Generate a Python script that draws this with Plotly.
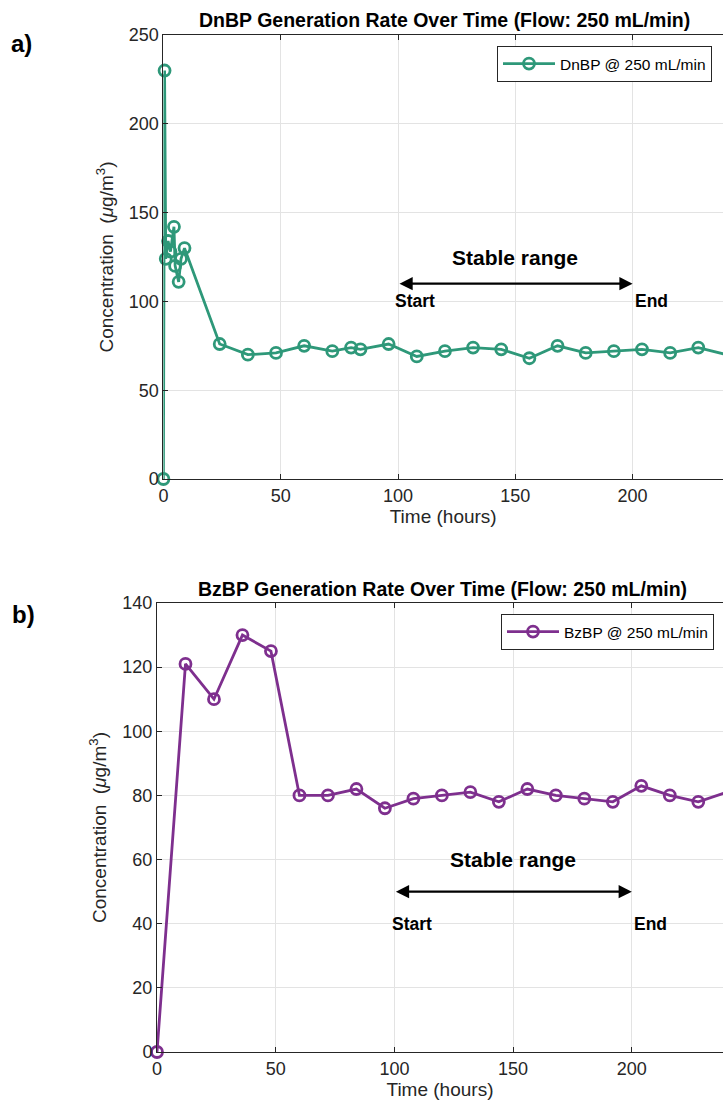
import plotly.graph_objects as go

# ---------------- data ----------------
dnbp_time = [0, 0.5, 1, 2, 3, 4.5, 5, 6.5, 7.5, 9,
             24, 36, 48, 60, 72, 80, 84, 96, 108, 120, 132, 144, 156, 168,
             180, 192, 204, 216, 228, 240]
dnbp_conc = [0, 230, 124, 134, 128, 142, 120, 111, 124, 130,
             76, 70, 71, 75, 72, 74, 73, 76, 69, 72, 74, 73, 68, 75,
             71, 72, 73, 71, 74, 70]

bzbp_time = [0, 12, 24, 36, 48, 60, 72, 84, 96, 108, 120, 132, 144, 156, 168,
             180, 192, 204, 216, 228, 240]
bzbp_conc = [0, 121, 110, 130, 125, 80, 80, 82, 76, 79, 80, 81, 78, 82, 80,
             79, 78, 83, 80, 78, 81]

stable_start = 100
stable_end = 200
x_ticks = [0, 50, 100, 150, 200]
title_a = "DnBP Generation Rate Over Time (Flow: 250 mL/min)"
title_b = "BzBP Generation Rate Over Time (Flow: 250 mL/min)"
legend_a = "DnBP @ 250 mL/min"
legend_b = "BzBP @ 250 mL/min"
ylab = "Concentration  (<i>μ</i>g/m<sup>3</sup>)"
xlab = "Time (hours)"

# ---------------- style ----------------
W, H = 723, 1104
TEAL = "#2e9879"
PURPLE = "#7e2f8e"
AX = "#262626"
GRID = "#e3e3e3"
FONT = "Liberation Sans, Arial, sans-serif"

def py(p):  # screen pixel y -> paper
    return 1 - p / H

def px(p):
    return p / W

fig = go.Figure()

fig.add_trace(go.Scatter(
    x=dnbp_time, y=dnbp_conc, mode="lines+markers", name=legend_a,
    line=dict(color=TEAL, width=2.8),
    marker=dict(symbol="circle-open", size=11, color=TEAL, line=dict(width=2.8)),
    xaxis="x", yaxis="y", legend="legend", cliponaxis=False))
fig.add_trace(go.Scatter(
    x=bzbp_time, y=bzbp_conc, mode="lines+markers", name=legend_b,
    line=dict(color=PURPLE, width=2.8),
    marker=dict(symbol="circle-open", size=11, color=PURPLE, line=dict(width=2.8)),
    xaxis="x2", yaxis="y2", legend="legend2", cliponaxis=False))

axis_common = dict(
    showline=True, linecolor=AX, linewidth=1, ticks="inside", ticklen=5,
    tickcolor=AX, tickfont=dict(family=FONT, size=18, color=AX),
    showgrid=True, gridcolor=GRID, gridwidth=1, zeroline=False, automargin=False,
)

xr_a = [0, (723 - 163.4) / 2.346]
xr_b = [0, (723 - 157) / 2.374]

fig.update_layout(
    width=W, height=H, margin=dict(l=0, r=0, t=0, b=0, autoexpand=False),
    paper_bgcolor="white", plot_bgcolor="white", showlegend=True,
    font=dict(family=FONT, color=AX),
    xaxis=dict(axis_common, domain=[px(163.4), 1], range=xr_a, tickvals=x_ticks,
               anchor="y", mirror="ticks",
               title=dict(text=xlab, font=dict(size=19, color=AX), standoff=5)),
    yaxis=dict(axis_common, domain=[py(479), py(35)], range=[0, 250], dtick=50,
               anchor="x",
               title=dict(text=ylab, font=dict(size=19, color=AX), standoff=10)),
    xaxis2=dict(axis_common, domain=[px(157), 1], range=xr_b, tickvals=x_ticks,
                anchor="y2", mirror="ticks",
                title=dict(text=xlab, font=dict(size=19, color=AX), standoff=4)),
    yaxis2=dict(axis_common, domain=[py(1052), py(603)], range=[0, 140], dtick=20,
                anchor="x2",
                title=dict(text=ylab, font=dict(size=19, color=AX), standoff=10)),
    legend=dict(x=px(712), y=py(46), xanchor="right", yanchor="top",
                bgcolor="white", bordercolor=AX, borderwidth=1,
                font=dict(family=FONT, size=15.5, color="black"),
                itemwidth=52, tracegroupgap=0),
    legend2=dict(x=px(714), y=py(614), xanchor="right", yanchor="top",
                 bgcolor="white", bordercolor=AX, borderwidth=1,
                 font=dict(family=FONT, size=15.5, color="black"),
                 itemwidth=52, tracegroupgap=0),
)

ann = []
# panel labels
ann.append(dict(text="<b>a)</b>", x=px(9), y=py(44), xref="paper", yref="paper",
                xanchor="left", yanchor="middle", showarrow=False,
                font=dict(family=FONT, size=24, color="black")))
ann.append(dict(text="<b>b)</b>", x=px(10), y=py(614), xref="paper", yref="paper",
                xanchor="left", yanchor="middle", showarrow=False,
                font=dict(family=FONT, size=24, color="black")))
# titles
ann.append(dict(text="<b>" + title_a + "</b>", x=px(444), y=py(20), xref="paper", yref="paper",
                xanchor="center", yanchor="middle", showarrow=False,
                font=dict(family=FONT, size=19.5, color="black")))
ann.append(dict(text="<b>" + title_b + "</b>", x=px(442), y=py(589), xref="paper", yref="paper",
                xanchor="center", yanchor="middle", showarrow=False,
                font=dict(family=FONT, size=19.5, color="black")))

def stable(xa, ya, y_text, y_arrow, y_lbl):
    out = []
    out.append(dict(text="<b>Stable range</b>", x=(stable_start + stable_end) / 2, y=y_text,
                    xref=xa, yref=ya, showarrow=False, xanchor="center", yanchor="middle",
                    font=dict(family=FONT, size=21, color="black")))
    out.append(dict(text="", x=stable_end, y=y_arrow, ax=stable_start, ay=y_arrow,
                    xref=xa, yref=ya, axref=xa, ayref=ya, showarrow=True,
                    arrowhead=2, arrowside="end+start", arrowwidth=2.4, arrowsize=1.1,
                    arrowcolor="black", standoff=0, startstandoff=0))
    out.append(dict(text="<b>Start</b>", x=stable_start - 2, y=y_lbl, xref=xa, yref=ya,
                    showarrow=False, xanchor="left", yanchor="middle",
                    font=dict(family=FONT, size=17.5, color="black")))
    out.append(dict(text="<b>End</b>", x=stable_end, y=y_lbl, xref=xa, yref=ya,
                    showarrow=False, xanchor="left", yanchor="middle",
                    font=dict(family=FONT, size=17.5, color="black")))
    return out

ann += stable("x", "y", 125, 110, 100)
ann += stable("x2", "y2", 60, 50, 40)

fig.update_layout(annotations=ann)

fig.write_html("out.html",
               config={"displayModeBar": False},
               post_script="document.body.style.margin='0';"
                           "document.documentElement.style.overflow='hidden';"
                           "document.body.style.overflow='hidden';")
